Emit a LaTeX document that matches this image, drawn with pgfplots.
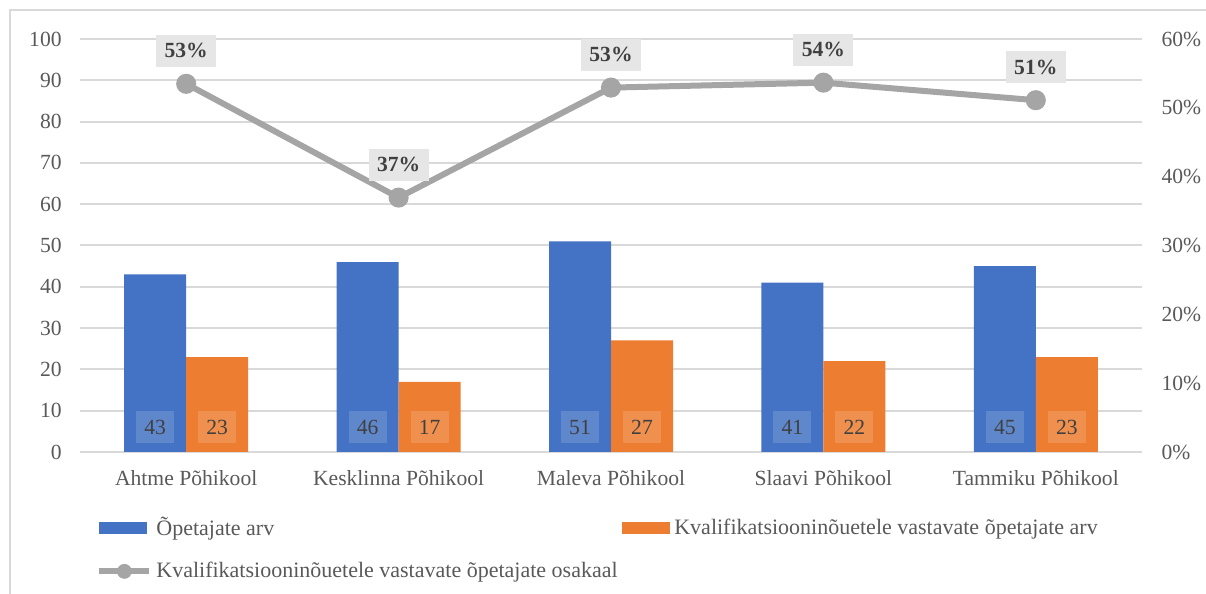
\documentclass[border=0pt]{standalone}
\usepackage{fontspec}
\setmainfont{Liberation Serif}
\usepackage{pgfplots}
\pgfplotsset{compat=1.18}
\definecolor{cblue}{HTML}{4472C4}
\definecolor{corange}{HTML}{ED7D31}
\definecolor{cgray}{HTML}{A5A5A5}
\definecolor{ctext}{HTML}{595959}
\definecolor{clab}{HTML}{404040}
\definecolor{cgrid}{HTML}{D9D9D9}
\definecolor{cbox}{HTML}{E7E6E6}
\begin{document}
\fontsize{10.8bp}{13bp}\selectfont
\begin{tikzpicture}
\useasboundingbox (0,0) rectangle (603bp,297bp);
\draw[cgrid, line width=0.8bp] (5bp,0) -- (5bp,292bp) -- (603bp,292bp);
\begin{axis}[
  at={(40bp,71bp)}, anchor=south west, scale only axis,
  width=531bp, height=206.5bp,
  xmin=-0.5, xmax=4.5, ymin=0, ymax=100,
  xtick={0,1,2,3,4},
  xticklabels={Ahtme Põhikool, Kesklinna Põhikool, Maleva Põhikool, Slaavi Põhikool, Tammiku Põhikool},
  ytick={0,10,...,100},
  axis line style={draw=none}, tick style={draw=none},
  ymajorgrids, grid style={cgrid, line width=1bp},
  ybar=0pt, bar width=31bp,
  /pgf/number format/assume math mode=true,
  ticklabel style={text=ctext, font=\fontsize{10.8bp}{13bp}\selectfont},
  yticklabel style={xshift=-5.4bp},
  xticklabel style={anchor=center, yshift=-8.8bp},
  legend columns=2,
  legend cell align=left,
  legend style={draw=none, fill=none, at={(0,0)}, anchor=north west, xshift=8bp, yshift=-30.5bp,
    inner sep=0pt, row sep=7.5bp, text=ctext, font=\fontsize{11bp}{13bp}\selectfont},
  nodes near coords,
  visualization depends on={y \as \rawy},
  every node near coord/.append style={anchor=center, fill=white, fill opacity=0.15, text opacity=1,
    text=clab, inner sep=0pt, minimum width=19bp, minimum height=16bp,
    font=\fontsize{10.8bp}{13bp}\selectfont,
    shift={(axis direction cs:0,{6.05-\rawy})}},
]
\addplot[fill=cblue, draw=none,
  legend image code/.code={\fill[cblue] (0bp,-3bp) rectangle (24bp,3bp);}]
  coordinates {(0,43) (1,46) (2,51) (3,41) (4,45)};
\addlegendentry{\makebox[231bp][l]{Õpetajate arv}}
\addplot[fill=corange, draw=none,
  legend image code/.code={\fill[corange] (0bp,-3bp) rectangle (24bp,3bp);}]
  coordinates {(0,23) (1,17) (2,27) (3,22) (4,23)};
\addlegendentry{Kvalifikatsiooninõuetele vastavate õpetajate arv}
\addlegendimage{legend image code/.code={\draw[cgray, line width=3bp] (0bp,0bp) -- (25bp,0bp); \fill[cgray] (12.5bp,0bp) circle (3.5bp);}}
\addlegendentry{Kvalifikatsiooninõuetele vastavate õpetajate osakaal}
\end{axis}
\begin{axis}[
  at={(40bp,71bp)}, anchor=south west, scale only axis,
  width=531bp, height=206.5bp,
  xmin=-0.5, xmax=4.5, ymin=0, ymax=60,
  axis x line=none, axis y line*=right,
  axis line style={draw=none}, tick style={draw=none},
  ytick={0,10,...,60},
  yticklabel={\pgfmathprintnumber{\tick}\%},
  /pgf/number format/assume math mode=true,
  ticklabel style={text=ctext, font=\fontsize{10.8bp}{13bp}\selectfont},
  yticklabel style={xshift=6bp},
]
\addplot[cgray, line width=3bp, mark=*, mark size=3.5bp, mark options={draw=none, fill=cgray},
  point meta=explicit symbolic,
  nodes near coords,
  every node near coord/.append style={anchor=center, yshift=16.5bp, fill=cbox, text=clab,
    font=\fontsize{10.8bp}{13bp}\selectfont\bfseries, inner sep=0pt, minimum width=30bp, minimum height=16bp}]
  coordinates {(0,53.49) [53\%] (1,36.96) [37\%] (2,52.94) [53\%] (3,53.66) [54\%] (4,51.11) [51\%]};
\end{axis}
\end{tikzpicture}
\end{document}
